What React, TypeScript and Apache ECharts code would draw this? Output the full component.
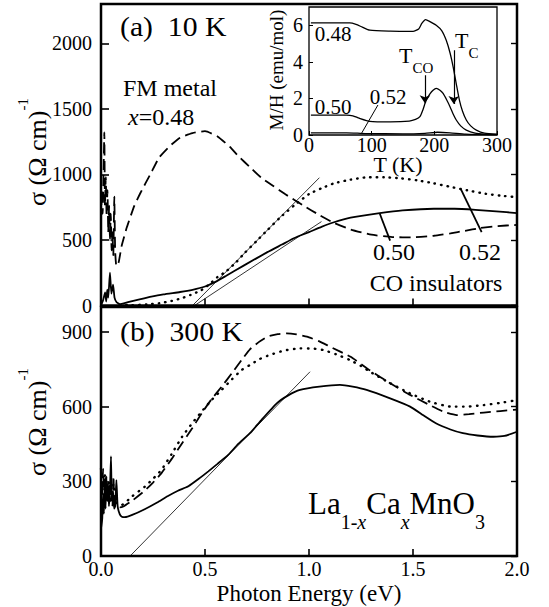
import React, { useEffect, useRef } from "react";
import * as echarts from "echarts";

const FONT = "Liberation Serif";

// ---------- Panel (a): 10 K, photon energy (eV) vs sigma ----------
const a048: number[][] = [
  [0.000, 640], [0.004, 880], [0.008, 700], [0.012, 1000], [0.016, 1320], [0.019, 760],
  [0.023, 980], [0.027, 680], [0.031, 880], [0.035, 560], [0.039, 760], [0.043, 500],
  [0.047, 700], [0.051, 420], [0.055, 560], [0.059, 380], [0.064, 830], [0.068, 420],
  [0.074, 300], [0.085, 330], [0.10, 460], [0.125, 600], [0.16, 760], [0.19, 860],
  [0.24, 1010], [0.28, 1130], [0.33, 1215], [0.38, 1280], [0.44, 1315], [0.50, 1330],
  [0.56, 1290], [0.62, 1210], [0.66, 1140], [0.72, 1050], [0.77, 975], [0.83, 910],
  [0.885, 850], [0.93, 805], [0.97, 765], [1.05, 690], [1.12, 630], [1.2, 580],
  [1.3, 540], [1.4, 522], [1.5, 520], [1.6, 532], [1.68, 550], [1.75, 570],
  [1.82, 590], [1.9, 605], [2.0, 615],
];
const a050: number[][] = [
  [0.0, 0], [0.01, 40], [0.02, 100], [0.025, 30], [0.03, 120], [0.035, 60], [0.043, 250],
  [0.05, 90], [0.058, 160], [0.065, 60], [0.075, 25], [0.09, 10], [0.105, 15], [0.13, 25],
  [0.18, 45], [0.235, 65], [0.3, 85], [0.38, 103], [0.44, 120], [0.5, 145], [0.55, 180],
  [0.6, 225], [0.69, 308], [0.8, 407], [0.87, 465], [0.93, 515], [1.0, 560], [1.06, 600],
  [1.12, 635], [1.2, 670], [1.34, 704], [1.45, 725], [1.6, 738], [1.7, 738], [1.8, 730],
  [1.9, 718], [2.0, 705],
];
const a052: number[][] = [
  [0.09, 5], [0.15, 3], [0.22, 8], [0.28, 17], [0.34, 35], [0.39, 57], [0.43, 80],
  [0.48, 115], [0.52, 160], [0.56, 217], [0.6, 258], [0.65, 330], [0.69, 400], [0.75, 495],
  [0.80, 575], [0.86, 670], [0.93, 765], [1.0, 850], [1.06, 894], [1.12, 932], [1.2, 960],
  [1.28, 978], [1.36, 978], [1.44, 970], [1.52, 955], [1.6, 932], [1.68, 905], [1.76, 879],
  [1.85, 852], [1.92, 838], [2.0, 826],
];
const aFitSteep: number[][] = [[0.44, 0], [1.05, 975]];
const aFitShallow: number[][] = [[0.45, 0], [1.06, 640]];
const aLead050: number[][] = [[1.34, 702], [1.39, 495]];
const aLead052: number[][] = [[1.73, 887], [1.83, 560]];

// ---------- Panel (b): 300 K ----------
const b048: number[][] = [
  [0.0, 300], [0.005, 240], [0.01, 350], [0.015, 260], [0.02, 320], [0.025, 230],
  [0.03, 290], [0.035, 250], [0.04, 280], [0.045, 220], [0.05, 240], [0.055, 200],
  [0.06, 320], [0.065, 200], [0.075, 205], [0.09, 195], [0.11, 200], [0.15, 222],
  [0.21, 262], [0.25, 295], [0.29, 332], [0.34, 390], [0.39, 453], [0.44, 515],
  [0.484, 573], [0.53, 628], [0.58, 680], [0.63, 735], [0.676, 787], [0.716, 830],
  [0.76, 860], [0.8, 881], [0.85, 891], [0.893, 894], [0.94, 890], [0.99, 881],
  [1.05, 862], [1.1, 841], [1.2, 800], [1.29, 747], [1.39, 694], [1.486, 647],
  [1.58, 606], [1.65, 578], [1.71, 566], [1.77, 570], [1.84, 576], [1.92, 582], [2.0, 588],
];
const b050: number[][] = [
  [0.0, 110], [0.006, 150], [0.01, 250], [0.014, 170], [0.018, 290], [0.022, 190],
  [0.026, 320], [0.03, 220], [0.034, 290], [0.038, 200], [0.043, 260], [0.048, 400],
  [0.052, 220], [0.058, 260], [0.063, 190], [0.068, 200], [0.074, 305], [0.08, 200],
  [0.09, 168], [0.1, 158], [0.115, 156], [0.15, 165], [0.21, 188], [0.27, 215],
  [0.32, 240], [0.37, 262], [0.42, 280], [0.47, 310], [0.516, 340], [0.56, 370],
  [0.61, 405], [0.66, 450], [0.716, 493], [0.77, 545], [0.845, 613], [0.9, 645],
  [0.957, 667], [1.05, 680], [1.149, 687], [1.21, 680], [1.277, 667], [1.39, 633],
  [1.486, 600], [1.55, 565], [1.61, 533], [1.68, 508], [1.74, 493], [1.81, 484],
  [1.886, 479], [1.94, 482], [2.0, 499],
];
const b052: number[][] = [
  [0.0, 350], [0.01, 280], [0.02, 330], [0.03, 260], [0.04, 300], [0.05, 240],
  [0.06, 290], [0.07, 220], [0.085, 205], [0.1, 205], [0.115, 213], [0.15, 240],
  [0.21, 278], [0.25, 310], [0.29, 345], [0.34, 410], [0.39, 479], [0.44, 535],
  [0.484, 580], [0.53, 625], [0.58, 667], [0.63, 710], [0.676, 747], [0.716, 767],
  [0.76, 790], [0.81, 807], [0.88, 825], [0.957, 834], [1.02, 833], [1.07, 827],
  [1.13, 810], [1.197, 787], [1.25, 763], [1.293, 740], [1.39, 694], [1.486, 653],
  [1.58, 620], [1.68, 600], [1.76, 600], [1.84, 606], [1.92, 615], [2.0, 626],
];
const bFit: number[][] = [[0.14, 0], [1.005, 740]];

// ---------- Inset: T (K) vs M/H (emu/mol) ----------
const m048: number[][] = [
  [3, 6.13], [40, 6.13], [65, 6.13], [75, 6.05], [85, 5.9], [97, 5.73], [130, 5.68],
  [166, 5.67], [175, 5.8], [180, 6.1], [186, 6.31], [193, 6.2], [203, 6.0], [212, 5.7],
  [219, 5.18], [225, 4.5], [230, 3.73], [235, 2.8], [240, 1.91], [245, 1.3], [251, 0.82],
  [258, 0.5], [267, 0.27], [280, 0.1], [300, 0.04],
];
const m050: number[][] = [
  [3, 1.09], [60, 1.09], [70, 1.05], [80, 0.92], [97, 0.75], [130, 0.72], [160, 0.76],
  [170, 0.85], [177, 1.0], [182, 1.4], [187, 1.91], [193, 2.25], [198, 2.45], [203, 2.55],
  [209, 2.45], [214, 2.27], [220, 1.9], [225, 1.55], [230, 1.15], [235, 0.82], [242, 0.5],
  [251, 0.27], [265, 0.1], [280, 0.04], [300, 0.02],
];
const m052: number[][] = [
  [3, 0.12], [60, 0.12], [90, 0.08], [150, 0.06], [185, 0.09], [205, 0.15], [225, 0.12],
  [250, 0.05], [300, 0.02],
];
const mLead052: number[][] = [[110, 1.64], [84, 0.1]];
const arrowTCO: number[][] = [[185, 3.27], [185, 1.73]];
const arrowTC: number[][] = [[231, 4.64], [231, 1.69]];

// ---------- Tick values ----------
const energyTicks = [0, 0.5, 1.0, 1.5, 2.0];
const energyInnerTicks = [0.5, 1.0, 1.5];
const aSigmaTicks = [0, 500, 1000, 1500, 2000];
const bSigmaTicks = [0, 300, 600, 900];
const insetTTicks = [0, 100, 200, 300];
const insetMTicks = [0, 2, 4, 6];

const BLACK = "#000";

function txt(text: string, x: number, y: number, size: number, align: string, extra: any = {}) {
  return {
    type: "text",
    x,
    y,
    rotation: extra.rotation || 0,
    scaleX: extra.scaleX || 1,
    silent: true,
    style: {
      text,
      font: `${extra.italic ? "italic " : ""}${size}px ${FONT}`,
      fontFamily: FONT,
      fontSize: size,
      fill: BLACK,
      align,
      textAlign: align,
      verticalAlign: extra.va || "middle",
      textVerticalAlign: extra.va || "middle",
      rich: extra.rich,
    },
  };
}

function richItem(size: number, extra: any = {}) {
  return {
    fontFamily: FONT,
    fontSize: size,
    font: `${extra.fontStyle === "italic" ? "italic " : ""}${size}px ${FONT}`,
    fill: BLACK,
    ...extra,
  };
}

function lineSeries(data: number[][], xi: number, yi: number, type: any, width: number, extra: any = {}) {
  return {
    type: "line",
    xAxisIndex: xi,
    yAxisIndex: yi,
    data,
    symbol: "none",
    smooth: extra.smooth ?? 0,
    silent: true,
    lineStyle: { color: BLACK, width, type, cap: extra.cap || "butt" },
  };
}

export default function App() {
  const ref = useRef<HTMLDivElement>(null);

  useEffect(() => {
    if (!ref.current) return;
    const chart = echarts.init(ref.current, undefined, { renderer: "svg" });

    const tickLine = (w: number) => ({ color: BLACK, width: w });
    const plain = (v: number) => String(v);
    const mainLabel = { fontFamily: FONT, fontSize: 20, color: BLACK };
    const insetLabel = { fontFamily: FONT, fontSize: 20, color: BLACK };

    const option: any = {
      animation: false,
      backgroundColor: "#fff",
      textStyle: { fontFamily: FONT },
      grid: [
        { left: 101, top: 4, width: 416, height: 301.5, show: true, borderColor: BLACK, borderWidth: 2.5, backgroundColor: "transparent" },
        { left: 101, top: 307, width: 416, height: 249, show: true, borderColor: BLACK, borderWidth: 2.5, backgroundColor: "transparent" },
        { left: 309, top: 7, width: 188, height: 128, show: true, borderColor: BLACK, borderWidth: 1.3, backgroundColor: "transparent" },
      ],
      xAxis: [
        {
          type: "value", gridIndex: 0, min: 0, max: 2, interval: 0.5,
          axisLine: { show: false },
          axisTick: { show: true, inside: true, length: 7, customValues: energyInnerTicks, lineStyle: tickLine(1.6) },
          axisLabel: { show: false },
          splitLine: { show: false },
        },
        {
          type: "value", gridIndex: 1, min: 0, max: 2, interval: 0.5,
          axisLine: { show: false },
          axisTick: { show: true, inside: true, length: 7, customValues: energyInnerTicks, lineStyle: tickLine(1.6) },
          axisLabel: { ...mainLabel, show: true, margin: 3, customValues: energyTicks, formatter: (v: number) => v.toFixed(1) },
          splitLine: { show: false },
        },
        {
          type: "value", gridIndex: 2, min: 0, max: 300, interval: 100,
          axisLine: { show: false },
          axisTick: { show: true, inside: true, length: 4, customValues: insetTTicks, lineStyle: tickLine(1) },
          axisLabel: { ...insetLabel, show: true, margin: 0, customValues: insetTTicks, formatter: plain },
          splitLine: { show: false },
        },
      ],
      yAxis: [
        {
          type: "value", gridIndex: 0, min: 0, max: 2300, interval: 500,
          axisLine: { show: false },
          axisTick: { show: true, inside: true, length: 8, customValues: aSigmaTicks, lineStyle: tickLine(1.6) },
          axisLabel: { ...mainLabel, show: true, margin: 9, customValues: aSigmaTicks, formatter: plain },
          splitLine: { show: false },
        },
        {
          type: "value", gridIndex: 1, min: 0, max: 1000, interval: 300,
          axisLine: { show: false },
          axisTick: { show: true, inside: true, length: 8, customValues: bSigmaTicks, lineStyle: tickLine(1.6) },
          axisLabel: { ...mainLabel, show: true, margin: 9, customValues: bSigmaTicks, formatter: plain },
          splitLine: { show: false },
        },
        {
          type: "value", gridIndex: 2, min: 0, max: 7, interval: 2,
          axisLine: { show: false },
          axisTick: { show: true, inside: true, length: 4, customValues: insetMTicks, lineStyle: tickLine(1) },
          axisLabel: { ...insetLabel, show: true, margin: 6, customValues: insetMTicks, formatter: plain },
          splitLine: { show: false },
        },
        {
          type: "value", gridIndex: 0, position: "right", min: 0, max: 2300, interval: 500,
          axisLine: { show: false },
          axisTick: { show: true, inside: true, length: 6, customValues: aSigmaTicks, lineStyle: tickLine(1.4) },
          axisLabel: { show: false },
          splitLine: { show: false },
        },
        {
          type: "value", gridIndex: 1, position: "right", min: 0, max: 1000, interval: 300,
          axisLine: { show: false },
          axisTick: { show: true, inside: true, length: 6, customValues: bSigmaTicks, lineStyle: tickLine(1.4) },
          axisLabel: { show: false },
          splitLine: { show: false },
        },
      ],
      series: [
        // panel (a)
        lineSeries(a048, 0, 0, [11, 5.5], 1.8, { smooth: 0.15 }),
        lineSeries(a050, 0, 0, "solid", 1.8, { smooth: 0.15 }),
        lineSeries(a052, 0, 0, [0.5, 6], 2.4, { smooth: 0.15, cap: "round" }),
        lineSeries(aFitSteep, 0, 0, "solid", 0.8),
        lineSeries(aFitShallow, 0, 0, "solid", 0.8),
        lineSeries(aLead050, 0, 0, "solid", 1.8),
        lineSeries(aLead052, 0, 0, "solid", 1.8),
        // panel (b)
        lineSeries(b048, 1, 1, [11, 5.5], 1.8, { smooth: 0.15 }),
        lineSeries(b050, 1, 1, "solid", 1.8, { smooth: 0.15 }),
        lineSeries(b052, 1, 1, [0.5, 6.5], 2.4, { smooth: 0.15, cap: "round" }),
        lineSeries(bFit, 1, 1, "solid", 0.8),
        // inset
        lineSeries(m048, 2, 2, "solid", 1.3, { smooth: 0.2 }),
        lineSeries(m050, 2, 2, "solid", 1.3, { smooth: 0.2 }),
        lineSeries(m052, 2, 2, "solid", 1.3, { smooth: 0.2 }),
        lineSeries(mLead052, 2, 2, "solid", 1.0),
        {
          type: "lines",
          coordinateSystem: "cartesian2d",
          xAxisIndex: 2,
          yAxisIndex: 2,
          silent: true,
          symbol: ["none", "arrow"],
          symbolSize: 8,
          lineStyle: { color: BLACK, width: 1.2, opacity: 1 },
          itemStyle: { color: BLACK },
          data: [{ coords: arrowTCO }, { coords: arrowTC }],
        },
      ],
      graphic: [
        txt("(a)  10 K", 120, 27, 27, "left", { scaleX: 1.1 }),
        txt("FM metal", 123, 88, 24, "left"),
        txt("{i|x}{n|=0.48}", 128, 117, 24, "left", {
          rich: {
            i: richItem(24, { fontStyle: "italic" }),
            n: richItem(24),
          },
        }),
        txt("0.50", 394, 252, 24, "center"),
        txt("0.52", 480, 252, 24, "center"),
        txt("CO insulators", 436, 283, 24, "center"),
        txt("(b)  300 K", 120, 332, 27, "left", { scaleX: 1.1 }),
        txt("{n|La}{s|1-}{si|x}{n|Ca}{si|x}{n|MnO}{s|3}", 308, 488, 31, "left", {
          va: "top",
          rich: {
            n: richItem(31, { lineHeight: 34, verticalAlign: "top" }),
            s: richItem(20, { lineHeight: 68 }),
            si: richItem(20, { lineHeight: 68, fontStyle: "italic" }),
          },
        }),
        txt("Photon Energy (eV)", 309, 593, 23, "center"),
        txt("{m|σ (Ω cm)}{p|-1}", 37, 152, 26, "center", {
          rotation: Math.PI / 2,
          rich: {
            m: richItem(26, { lineHeight: 44 }),
            p: richItem(15, { lineHeight: 15, verticalAlign: "top" }),
          },
        }),
        txt("{m|σ (Ω cm)}{p|-1}", 37, 422, 26, "center", {
          rotation: Math.PI / 2,
          rich: {
            m: richItem(26, { lineHeight: 44 }),
            p: richItem(15, { lineHeight: 15, verticalAlign: "top" }),
          },
        }),
        // inset texts
        txt("0.48", 333, 34, 21, "center"),
        txt("0.50", 333, 107, 21, "center"),
        txt("0.52", 388, 97, 21, "center"),
        txt("T (K)", 398, 164, 22, "center"),
        txt("M/H (emu/mol)", 276, 70, 19, "center", { rotation: Math.PI / 2 }),
        txt("{t|T}{c|CO}", 399, 44, 22, "left", {
          va: "top",
          rich: {
            t: richItem(22, { lineHeight: 24, verticalAlign: "top" }),
            c: richItem(15, { lineHeight: 47 }),
          },
        }),
        txt("{t|T}{c|C}", 455, 29, 22, "left", {
          va: "top",
          rich: {
            t: richItem(22, { lineHeight: 24, verticalAlign: "top" }),
            c: richItem(15, { lineHeight: 47 }),
          },
        }),
      ],
    };

    chart.setOption(option);
    return () => {
      chart.dispose();
    };
  }, []);

  return (
    <div
      ref={ref}
      style={{ position: "absolute", left: 0, top: 0, width: 549, height: 607, background: "#fff" }}
    />
  );
}
